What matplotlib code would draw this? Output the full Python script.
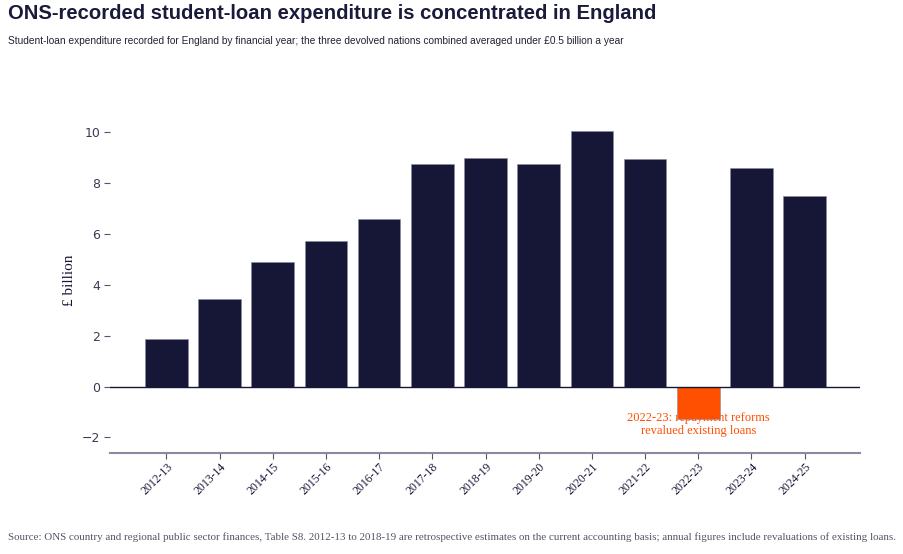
"""
student loan expenditure, England
"""
import matplotlib.pyplot as plt
import numpy as np

years = ['2012-13', '2013-14', '2014-15', '2015-16', '2016-17', '2017-18', '2018-19',
         '2019-20', '2020-21', '2021-22', '2022-23', '2023-24', '2024-25']
spend = [1.88, 3.43, 4.88, 5.72, 6.59, 8.77, 9.0, 8.77, 10.07, 8.96, -1.26, 8.6, 7.51]
yticks = [-2, 0, 2, 4, 6, 8, 10]

navy = '#161637'
orange = '#ff4f00'
serif = ['Liberation Serif', 'DejaVu Serif']


def make_chart():
    fig = plt.figure(figsize=(9.04, 5.54), dpi=100)
    ax = fig.add_axes([0.1217, 0.183, 0.8296, 0.624])

    x = np.arange(len(years))
    cols = [orange if v < 0 else navy for v in spend]
    ax.bar(x, spend, width=0.8, color=cols, edgecolor='#8a8aa0', linewidth=0.4, zorder=3)
    ax.axhline(0, color=navy, lw=1.0, zorder=4)

    i = years.index('2022-23')
    ax.text(x[i], spend[i] + 0.26, '2022-23: repayment reforms\nrevalued existing loans',
            ha='center', va='top', color=orange, fontsize=9, family=serif,
            linespacing=1.1, zorder=2)

    ax.set_xlim(-1.06, 13.04)
    ax.set_ylim(-2.6, 11)
    ax.set_yticks(yticks)
    ax.set_yticklabels([('\u2212' + str(-t)) if t < 0 else str(t) for t in yticks])
    ax.set_xticks(x)
    ax.set_xticklabels(years, rotation=45, ha='right', rotation_mode='anchor',
                       fontsize=8.5, family=serif, color=navy)

    for s in ['top', 'right', 'left']:
        ax.spines[s].set_visible(False)
    ax.spines['bottom'].set_color('#8a8aa0')
    ax.spines['bottom'].set_linewidth(1.5)
    ax.tick_params(axis='y', length=4, color='#555566', labelsize=9,
                   labelcolor='#3a3a55', pad=3)
    ax.tick_params(axis='x', length=4, color='#555566', pad=2)

    ax.set_ylabel('£ billion', family=serif, fontsize=11, color=navy)
    ax.yaxis.set_label_coords(-0.045, 0.5)

    fig.text(0.009, 0.965, 'ONS-recorded student-loan expenditure is concentrated in England',
             fontsize=14.6, fontweight='bold', family='Liberation Sans', color='#1a1a3a', va='baseline')
    fig.text(0.009, 0.92, 'Student-loan expenditure recorded for England by financial year; '
             'the three devolved nations combined averaged under £0.5 billion a year',
             fontsize=7.3, family='Liberation Sans', color='#222233', va='baseline')
    fig.text(0.009, 0.026, 'Source: ONS country and regional public sector finances, Table S8. '
             '2012-13 to 2018-19 are retrospective estimates on the current accounting basis; '
             'annual figures include revaluations of existing loans.',
             fontsize=7.95, family=serif, color='#555566', va='baseline')

    plt.savefig('out.png', dpi=100)


if __name__ == "__main__":
    make_chart()
